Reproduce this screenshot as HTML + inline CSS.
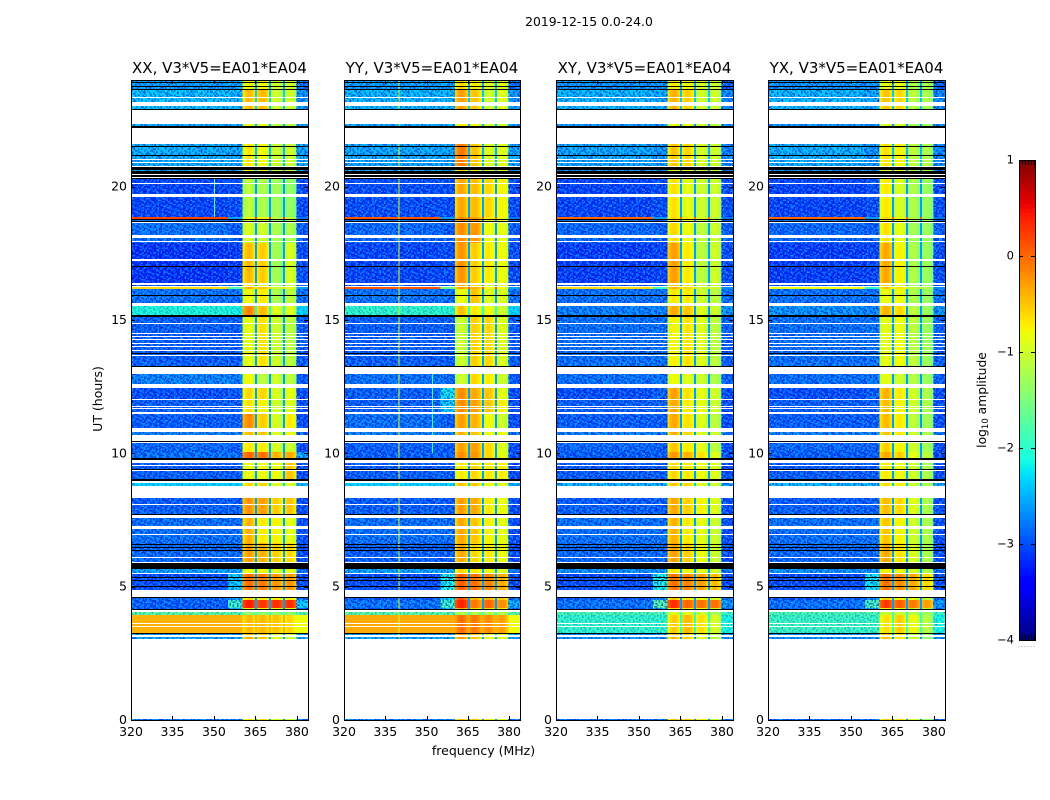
<!DOCTYPE html>
<html>
<head>
<meta charset="utf-8">
<title>2019-12-15 amplitude spectrogram</title>
<style>
html,body{margin:0;padding:0;background:#fff;}
svg{display:block;}
text{font-family:"DejaVu Sans","Liberation Sans",sans-serif;fill:#000;}
</style>
</head>
<body>
<svg id="figure" xmlns="http://www.w3.org/2000/svg" width="1050" height="800" viewBox="0 0 1050 800">
<defs id="defs"></defs>
<text x="589" y="26" font-size="12.400" text-anchor="middle">2019-12-15 0.0-24.0</text>
<text x="483.500" y="755" font-size="12.500" text-anchor="middle">frequency (MHz)</text>
<text transform="translate(102,399) rotate(-90)" font-size="12.500" text-anchor="middle">UT (hours)</text>
<text transform="translate(986,400) rotate(-90)" font-size="12.300" text-anchor="middle">log<tspan font-size="8.500" dy="2">10</tspan><tspan dy="-2"> amplitude</tspan></text>
</svg>
<script>
// Categories and axis labels
const polTitles = ['XX, V3*V5=EA01*EA04','YY, V3*V5=EA01*EA04','XY, V3*V5=EA01*EA04','YX, V3*V5=EA01*EA04'];
const freqTicks = [320,335,350,365,380];
const hourTicks = [0,5,10,15,20];
const colorbarTicks = [-4,-3,-2,-1,0,1];
// Time bands (UT hours) shared by all panels
const bandStart = [24.00,23.62,22.35,21.60,20.78,20.29,18.86,18.79,17.89,16.39,16.24,16.16,15.64,15.19,12.98,12.45,12.04,11.48,10.80,10.39,10.05,9.71,8.89,8.33,7.58,6.64,5.89,5.51,4.61,4.50,4.19,4.05,3.94,3.22,0.04];
const bandEnd   = [23.62,22.88,22.24,20.78,20.29,18.86,18.79,17.89,16.39,16.24,16.16,15.64,15.19,13.24,12.60,12.04,11.48,10.95,10.69,10.05,9.79,8.96,8.78,7.73,6.64,5.89,5.51,4.88,4.50,4.19,4.16,3.94,3.26,3.04,0.00];
// log10 amplitude per band: [320-355, 355-360, spw1, spw2, spw3, spw4, 380-384]
const xxLevels = [
[-2.55,-2.5,-0.8,-0.8,-1.0,-1.0,-2.8],[-2.35,-2.4,-0.45,-0.45,-1.0,-1.0,-2.6],[-2.5,-2.5,-0.9,-0.9,-1.1,-1.1,-2.6],[-2.45,-2.5,-0.7,-0.8,-1.0,-1.0,-2.5],[-2.5,-2.5,-0.8,-0.8,-1.0,-1.0,-2.6],
[-3.05,-3.0,-1.1,-1.2,-1.25,-1.35,-3.0],[0.2,-2.6,-0.8,-0.8,-1.1,-1.1,-2.8],[-2.8,-2.9,-0.95,-1.0,-1.2,-1.2,-2.9],[-3.15,-3.1,-0.45,-0.55,-1.25,-0.95,-3.0],[-2.9,-2.9,-0.7,-0.8,-1.1,-1.0,-2.9],
[-0.6,-1.8,-0.4,-0.5,-1.0,-0.9,-2.6],[-2.8,-2.8,-0.8,-0.7,-1.2,-1.1,-2.8],[-2.05,-2.1,-0.15,-0.45,-0.9,-0.9,-2.3],[-2.9,-2.9,-0.85,-0.65,-1.0,-1.1,-2.9],[-2.7,-2.7,-0.8,-1.1,-1.0,-1.1,-2.9],
[-3.0,-2.95,-0.6,-0.6,-0.95,-0.85,-3.0],[-2.9,-2.9,-0.65,-0.75,-1.0,-0.9,-3.0],[-2.9,-2.9,-0.2,-0.55,-0.95,-0.7,-3.0],[-2.7,-2.7,-0.45,-0.5,-0.9,-0.8,-2.8],[-2.85,-2.9,-0.7,-0.7,-0.95,-1.0,-3.0],
[-2.8,-2.8,0.0,-0.05,-0.4,-0.35,-2.5],[-2.9,-2.9,-0.8,-0.8,-0.8,-0.5,-3.0],[-2.3,-2.3,-0.6,-0.6,-0.9,-0.9,-2.5],[-2.9,-2.9,-0.25,-0.3,-0.55,-0.5,-3.0],[-2.8,-2.8,-0.4,-0.7,-0.75,-0.85,-3.0],
[-2.85,-2.85,-0.3,-0.4,-0.55,-0.6,-3.0],[-2.5,-2.5,-0.8,-0.8,-0.9,-0.9,-2.8],[-3.0,-2.3,-0.05,-0.1,-0.25,-0.25,-3.0],[-2.8,-2.5,-0.6,-0.7,-0.7,-0.7,-2.8],[-2.9,-1.9,0.4,0.25,0.3,0.3,-2.3],
[-2.9,-2.5,-0.7,-0.7,-0.8,-0.8,-2.9],[-1.7,-1.7,-1.4,-1.4,-1.4,-1.4,-1.7],[-0.4,-0.4,-0.45,-0.45,-0.5,-0.6,-0.8],[-2.5,-2.5,-0.4,-0.5,-0.9,-1.0,-2.5],[-2.7,-2.7,-0.7,-0.6,-0.9,-1.0,-2.8]];
const yyLevels = [
[-2.55,-2.5,-0.6,-0.7,-0.9,-0.9,-2.8],[-2.4,-2.4,-0.3,-0.5,-1.0,-0.9,-2.6],[-2.5,-2.5,-0.7,-0.8,-1.0,-1.0,-2.6],[-2.5,-2.5,-0.1,-0.5,-0.9,-0.9,-2.5],[-2.5,-2.5,-0.6,-0.7,-0.9,-0.9,-2.6],
[-3.0,-3.0,-0.35,-0.45,-0.6,-0.75,-3.0],[0.1,-2.6,-0.2,-0.3,-0.7,-0.8,-2.8],[-2.85,-2.9,-0.2,-0.25,-0.8,-0.85,-2.9],[-3.05,-3.0,-0.25,-0.55,-0.7,-0.8,-3.0],[-2.9,-2.9,-0.4,-0.6,-0.8,-0.9,-2.9],
[0.1,-1.6,-0.3,-0.4,-0.8,-0.8,-2.6],[-2.8,-2.8,-0.8,-0.5,-0.9,-0.9,-2.8],[-1.95,-2.0,-0.5,-0.7,-0.8,-1.0,-2.3],[-2.9,-2.9,-1.0,-0.55,-0.6,-0.9,-2.9],[-2.8,-2.8,-1.0,-0.6,-0.7,-1.0,-2.9],
[-2.9,-2.2,-0.2,-0.35,-0.5,-0.85,-3.0],[-2.9,-2.3,-0.2,-0.3,-0.5,-0.7,-3.0],[-2.8,-2.9,-0.3,-0.4,-0.8,-1.0,-3.0],[-2.7,-2.7,-0.4,-0.5,-0.8,-0.8,-2.8],[-2.9,-2.9,-0.3,-0.3,-0.6,-0.9,-3.0],
[-2.9,-2.9,-0.2,-0.25,-0.6,-0.85,-3.0],[-2.9,-2.9,-0.7,-0.6,-0.7,-0.7,-3.0],[-2.3,-2.3,-0.5,-0.5,-0.8,-0.9,-2.5],[-2.9,-2.9,-0.3,-0.35,-0.7,-0.8,-3.0],[-2.8,-2.8,-0.35,-0.5,-0.75,-0.85,-3.0],
[-2.9,-2.9,-0.35,-0.6,-0.7,-0.8,-3.0],[-2.5,-2.5,-0.6,-0.7,-0.8,-0.9,-2.8],[-3.0,-2.1,0.05,-0.05,-0.15,-0.35,-3.0],[-2.9,-2.2,0.1,-0.4,-0.4,-0.5,-2.8],[-2.8,-1.9,0.35,-0.1,0.0,-0.2,-2.5],
[-2.9,-2.4,-0.3,-0.6,-0.6,-0.7,-2.9],[-1.7,-1.7,-1.2,-1.2,-1.2,-1.2,-1.7],[-0.35,-0.35,-0.05,-0.1,-0.2,-0.3,-0.8],[-2.5,-2.5,-0.3,-0.5,-0.8,-0.9,-2.5],[-2.7,-2.7,-0.5,-0.5,-0.7,-0.9,-2.8]];
const xyLevels = [
[-2.6,-2.6,-0.7,-0.8,-1.0,-1.0,-2.9],[-2.4,-2.5,-0.4,-0.55,-1.0,-1.0,-2.7],[-2.6,-2.6,-0.8,-0.9,-1.0,-1.1,-2.7],[-2.5,-2.6,-0.5,-0.6,-0.95,-1.0,-2.7],[-2.6,-2.6,-0.7,-0.8,-1.0,-1.0,-2.7],
[-3.05,-3.0,-0.65,-0.85,-1.0,-1.0,-3.0],[0.0,-2.6,-0.6,-0.7,-1.0,-1.1,-2.8],[-2.85,-2.9,-0.6,-0.8,-1.1,-1.0,-2.9],[-3.1,-3.05,-0.3,-0.7,-1.1,-1.0,-3.0],[-2.9,-2.9,-0.5,-0.7,-1.0,-1.0,-2.9],
[-0.6,-1.9,-0.4,-0.6,-1.0,-1.0,-2.7],[-2.8,-2.8,-0.7,-0.7,-1.0,-1.1,-2.8],[-2.7,-2.7,-0.35,-0.5,-0.9,-1.0,-2.6],[-2.8,-2.8,-0.75,-0.65,-0.9,-1.1,-2.9],[-2.8,-2.8,-0.8,-0.9,-1.0,-1.2,-2.9],
[-3.0,-2.9,-0.3,-0.65,-0.85,-1.0,-3.0],[-2.9,-2.9,-0.35,-0.7,-0.85,-1.0,-3.0],[-2.9,-2.9,-0.35,-0.65,-0.9,-1.1,-3.0],[-2.7,-2.7,-0.4,-0.6,-0.9,-1.0,-2.8],[-2.85,-2.9,-0.5,-0.7,-0.85,-1.1,-3.0],
[-2.9,-2.9,-0.25,-0.4,-0.65,-0.9,-3.0],[-2.9,-2.9,-0.6,-0.7,-0.8,-0.9,-3.0],[-2.4,-2.4,-0.5,-0.6,-0.9,-1.0,-2.5],[-2.9,-2.9,-0.35,-0.55,-0.75,-0.9,-3.0],[-2.8,-2.8,-0.4,-0.7,-0.85,-1.0,-3.0],
[-2.85,-2.85,-0.3,-0.55,-0.8,-1.0,-3.0],[-2.6,-2.6,-0.7,-0.8,-0.9,-1.0,-2.8],[-3.0,-2.1,-0.05,-0.15,-0.3,-0.45,-3.0],[-2.9,-2.6,-0.5,-0.7,-0.8,-0.9,-2.8],[-2.8,-1.7,0.3,0.0,-0.05,-0.05,-2.6],
[-2.9,-2.5,-0.6,-0.7,-0.8,-0.9,-2.9],[-1.8,-1.8,-0.9,-0.9,-1.0,-1.2,-1.9],[-1.95,-1.95,-0.55,-0.45,-0.65,-0.95,-2.1],[-2.6,-2.6,-0.45,-0.6,-0.9,-1.1,-2.6],[-2.8,-2.8,-0.5,-0.5,-0.7,-1.1,-2.8]];
const yxLevels = [
[-2.6,-2.6,-0.85,-0.85,-1.2,-1.2,-2.9],[-2.4,-2.5,-0.5,-0.6,-1.1,-1.2,-2.7],[-2.6,-2.6,-0.9,-0.95,-1.2,-1.3,-2.7],[-2.45,-2.6,-0.65,-0.75,-1.1,-1.2,-2.7],[-2.6,-2.6,-0.8,-0.85,-1.1,-1.2,-2.7],
[-3.05,-3.0,-0.7,-0.95,-1.2,-1.3,-3.0],[0.0,-2.6,-0.6,-0.8,-1.2,-1.3,-2.8],[-2.85,-2.9,-0.65,-0.85,-1.25,-1.3,-2.9],[-3.1,-3.05,-0.35,-0.75,-1.2,-1.3,-3.0],[-2.9,-2.9,-0.55,-0.85,-1.2,-1.3,-2.9],
[-0.8,-2.0,-0.5,-0.7,-1.1,-1.2,-2.7],[-2.8,-2.8,-0.8,-0.8,-1.2,-1.3,-2.8],[-2.6,-2.7,-0.4,-0.6,-1.1,-1.3,-2.6],[-2.8,-2.8,-0.85,-0.8,-1.1,-1.3,-2.9],[-2.8,-2.8,-0.85,-1.0,-1.15,-1.3,-2.9],
[-3.0,-2.9,-0.4,-0.7,-1.0,-1.2,-3.0],[-2.9,-2.9,-0.45,-0.75,-1.0,-1.2,-3.0],[-2.9,-2.9,-0.45,-0.7,-1.1,-1.25,-3.0],[-2.7,-2.7,-0.5,-0.7,-1.0,-1.2,-2.8],[-2.85,-2.9,-0.55,-0.75,-1.0,-1.25,-3.0],
[-2.9,-2.9,-0.35,-0.55,-0.85,-1.1,-3.0],[-2.9,-2.9,-0.7,-0.8,-1.0,-1.2,-3.0],[-2.4,-2.4,-0.6,-0.7,-1.0,-1.2,-2.5],[-2.9,-2.9,-0.45,-0.6,-0.9,-1.2,-3.0],[-2.8,-2.8,-0.5,-0.75,-1.0,-1.2,-3.0],
[-2.85,-2.85,-0.35,-0.65,-0.95,-1.2,-3.0],[-2.6,-2.6,-0.75,-0.85,-1.0,-1.2,-2.8],[-3.0,-2.2,-0.05,-0.2,-0.35,-0.6,-3.0],[-2.9,-2.6,-0.55,-0.75,-0.9,-1.1,-2.8],[-2.8,-1.8,0.25,0.05,-0.1,-0.3,-2.6],
[-2.9,-2.5,-0.7,-0.8,-1.0,-1.1,-2.9],[-1.8,-1.8,-1.0,-1.0,-1.1,-1.3,-1.9],[-1.9,-1.9,-0.65,-0.55,-0.8,-1.15,-2.1],[-2.6,-2.6,-0.5,-0.7,-1.0,-1.3,-2.6],[-2.8,-2.8,-0.55,-0.6,-0.9,-1.3,-2.8]];
const panelLevels = [xxLevels,yyLevels,xyLevels,yxLevels];
// Level change across each spectral window (estimated)
const spwProfile = [-0.22,-0.08,0,0.03,0,-0.08,-0.22];
const spwStart = [360.4,365,370,375];
const spwEnd   = [365,370,375,379.7];
const gapFreqs = [365,370,375];
const gapLevel = -2.6;
// Narrow spectral lines
const lineFreq  = [350,339.8,352];
const linePanel = [0,1,1];
const lineLevel = [-1.7,-0.9,-1.9];
const lineStart = [20.29,24,12.98];
const lineEnd   = [18.86,3.04,10];
// Flagged rows: blank (white)
const blankStart = [23.36,23.18,22.88,22.20,21.04,20.94,20.79,20.49,20.36,20.14,19.73,18.68,18.19,17.96,17.27,16.37,16.28,15.64,14.89,14.53,14.40,14.29,14.14,14.01,13.88,13.69,13.24,12.60,12.04,11.78,11.70,11.55,10.95,10.69,9.71,9.56,9.38,8.96,8.78,8.10,7.65,7.29,7.22,6.98,6.11,5.91,5.53,4.86,4.76,4.11,3.64,3.51,3.19,3.04];
const blankEnd   = [23.33,23.03,22.39,21.64,21.00,20.91,20.74,20.44,20.31,20.10,19.63,18.62,18.06,17.93,17.21,16.33,16.24,15.53,14.85,14.49,14.36,14.25,14.10,13.97,13.84,13.65,12.98,12.45,12.00,11.74,11.66,11.49,10.80,10.50,9.64,9.51,9.32,8.89,8.33,8.06,7.61,7.26,7.18,6.94,6.08,5.87,5.48,4.82,4.61,4.05,3.60,3.47,3.13,0.04];
// Flagged rows: zero amplitude (black)
const blackStart = [23.91,23.79,23.66,22.91,22.26,21.51,21.19,20.72,20.59,20.42,20.31,18.79,18.73,17.01,15.94,15.19,13.78,13.28,10.46,9.81,9.43,9.04,7.71,6.60,6.49,6.38,5.87,5.76,5.36,5.25,5.03,4.61,4.16,3.28];
const blackEnd   = [23.87,23.75,23.63,22.88,22.20,21.47,21.15,20.63,20.49,20.38,20.27,18.75,18.69,16.97,15.90,15.13,13.74,13.22,10.41,9.75,9.38,8.98,7.67,6.56,6.45,6.34,5.78,5.68,5.33,5.21,4.99,4.58,4.11,3.21];
// Fine grain: d = darker, c = lighter, . = none
const speckleTexture = [
'd.c..d.dc.d..c.d','.cd.c..d.c.dd..c','c..d.dc..d..c.d.','.d.c..d.cd.c..dc','d.c.dd..c..d.c..','..d.c.d.d.c.d..c','c.d..c.dc..d.cd.','.dc.d..d.c.d...d',
'd...cd.c..dc.d.c','.c.d..c.d.d..c.d','cd..d.d..c.dd..c','..c.dc..d.d.c.d.','d.d...c.dc..d..c','.c.dc.d...dc.d.d','d..c..dc.d..c.d.','.dc.d...c.d.d.cd'];
const speckleTextureB = ['c...d....c.','..d...c....','.....d..c..','d..c.....d.','...d..c....','c.....d...c','...c....d..','.d....c....','....d....c.','..c.....d..','d.....c....'];

// Figure geometry and axis functions
const NS = 'http://www.w3.org/2000/svg';
const svg = document.getElementById('figure');
const defs = document.getElementById('defs');
const PLOT_TOP = 80, PLOT_BOTTOM = 720, FREQ_MIN = 320, FREQ_MAX = 384, HOUR_MAX = 24;
const PANEL_LEFTS = [131,344,556,768], PANEL_WIDTHS = [177,176,177,177];
const panelLeft = i => PANEL_LEFTS[i];
const xScale = (f, i) => PANEL_LEFTS[i] + (f - FREQ_MIN) * PANEL_WIDTHS[i] / (FREQ_MAX - FREQ_MIN);
const yScale = h => PLOT_BOTTOM - h * (PLOT_BOTTOM - PLOT_TOP) / HOUR_MAX;
const CB_X = 1019, CB_W = 16, CB_TOP = 160, CB_BOTTOM = 640, CB_MIN = -4, CB_MAX = 1;
const cbScale = v => CB_BOTTOM - (v - CB_MIN) * (CB_BOTTOM - CB_TOP) / (CB_MAX - CB_MIN);

function clamp(v){ return Math.max(0, Math.min(1, v)); }
function jet(level){
  const t = clamp((level - CB_MIN) / (CB_MAX - CB_MIN));
  const r = t < 0.35 ? 0 : t < 0.66 ? (t - 0.35) / 0.31 : t < 0.89 ? 1 : 1 - (t - 0.89) / 0.11 * 0.5;
  const g = t < 0.125 ? 0 : t < 0.375 ? (t - 0.125) / 0.25 : t < 0.64 ? 1 : t < 0.91 ? 1 - (t - 0.64) / 0.27 : 0;
  const b = t < 0.11 ? 0.5 + t / 0.11 * 0.5 : t < 0.34 ? 1 : t < 0.65 ? 1 - (t - 0.34) / 0.31 : 0;
  return 'rgb(' + Math.round(r * 255) + ',' + Math.round(g * 255) + ',' + Math.round(b * 255) + ')';
}
function addRect(parent, x, y, w, h, fill){
  const el = document.createElementNS(NS, 'rect');
  el.setAttribute('x', x.toFixed(2));
  el.setAttribute('y', y.toFixed(2));
  el.setAttribute('width', Math.max(w, 0).toFixed(2));
  el.setAttribute('height', Math.max(h, 0).toFixed(2));
  el.setAttribute('fill', fill);
  parent.appendChild(el);
  return el;
}
function addLine(parent, x1, y1, x2, y2){
  const el = document.createElementNS(NS, 'line');
  el.setAttribute('x1', x1);
  el.setAttribute('y1', y1);
  el.setAttribute('x2', x2);
  el.setAttribute('y2', y2);
  el.setAttribute('stroke', '#000');
  el.setAttribute('stroke-width', '1');
  parent.appendChild(el);
  return el;
}
function addText(parent, x, y, str, anchor, size){
  const el = document.createElementNS(NS, 'text');
  el.setAttribute('x', x);
  el.setAttribute('y', y);
  el.setAttribute('text-anchor', anchor);
  el.setAttribute('font-size', size);
  el.textContent = str;
  parent.appendChild(el);
  return el;
}
function addGroup(parent){
  const el = document.createElementNS(NS, 'g');
  parent.appendChild(el);
  return el;
}

// Speckle tiles
const GRAIN = 1.5;
function buildPattern(id, texture){
  const pattern = document.createElementNS(NS, 'pattern');
  pattern.setAttribute('id', id);
  pattern.setAttribute('patternUnits', 'userSpaceOnUse');
  pattern.setAttribute('width', GRAIN * texture[0].length);
  pattern.setAttribute('height', GRAIN * texture.length);
  texture.forEach((row, r) => {
    row.split('').forEach((ch, c) => {
      if (ch === '.') return;
      const g = addRect(pattern, c * GRAIN, r * GRAIN, GRAIN, GRAIN, ch === 'd' ? '#0000c8' : '#20c8ff');
      g.setAttribute('fill-opacity', ch === 'd' ? '0.5' : '0.45');
    });
  });
  defs.appendChild(pattern);
}
buildPattern('speckle', speckleTexture);
buildPattern('speckle-b', speckleTextureB);

// Panels
polTitles.forEach((title, p) => {
  const levels = panelLevels[p];
  const left = panelLeft(p);
  const width = PANEL_WIDTHS[p];
  const panel = addGroup(svg);
  
  

  const heat = addGroup(panel);
  
  
  heat.setAttribute('shape-rendering', 'crispEdges');

  bandStart.forEach((start, b) => {
    const y0 = Math.round(yScale(start));
    const h = Math.max(1, Math.round(yScale(bandEnd[b])) - y0);
    const row = levels[b];
    const lowA = addRect(heat, xScale(320, p), y0, xScale(355, p) - xScale(320, p), h, jet(row[0]));
    
    
    const lowB = addRect(heat, xScale(355, p), y0, xScale(360.4, p) - xScale(355, p), h, jet(row[1]));
    
    
    const edge = addRect(heat, xScale(379.7, p), y0, xScale(384, p) - xScale(379.7, p), h, jet(row[6]));
    
    
    spwStart.forEach((f0, s) => {
      const step = (spwEnd[s] - f0) / spwProfile.length;
      spwProfile.forEach((delta, k) => {
        const fa = f0 + k * step;
        const cell = addRect(heat, xScale(fa, p), y0, xScale(fa + step, p) - xScale(fa, p) + 0.3, h, jet(row[2 + s] + delta));
        
        
      });
    });
    gapFreqs.forEach(f => {
      const gap = addRect(heat, Math.round(xScale(f, p)), y0, 2, h, jet(Math.max(gapLevel, row[0])));
      
      
    });
    ['speckle', 'speckle-b'].forEach(id => {
      const strength = row[0] < -2.3 ? '1' : row[0] < -1.2 ? '0.45' : '0';
      const grain = addRect(heat, xScale(320, p), y0, xScale(360.4, p) - xScale(320, p), h, 'url(#' + id + ')');
      grain.setAttribute('opacity', strength);
      
      
      const grainEdge = addRect(heat, xScale(379.7, p), y0, xScale(384, p) - xScale(379.7, p), h, 'url(#' + id + ')');
      grainEdge.setAttribute('opacity', row[6] < -1.2 ? strength : '0');
      
      
    });
    lineFreq.forEach((f, n) => {
      if (linePanel[n] !== p) return;
      const top = Math.min(start, lineStart[n]), bottom = Math.max(bandEnd[b], lineEnd[n]);
      if (top <= bottom) return;
      const ln = addRect(heat, xScale(f, p), yScale(top), 1, yScale(bottom) - yScale(top), jet(lineLevel[n]));
      
      
    });
  });

  blankStart.forEach((start, i) => {
    const y0 = Math.round(yScale(start));
    const blank = addRect(heat, left, y0, width, Math.max(1, Math.round(yScale(blankEnd[i])) - y0), '#fff');
    
    
  });
  blackStart.forEach((start, i) => {
    const y0 = Math.round(yScale(start));
    const black = addRect(heat, left, y0, width, Math.max(1, Math.round(yScale(blackEnd[i])) - y0), '#000');
    
    
  });

  // Ticks and labels
  const ticks = addGroup(panel);
  
  
  freqTicks.forEach(f => {
    const tx = Math.round(xScale(f, p)) + 0.5;
    const tb = addLine(ticks, tx, PLOT_BOTTOM, tx, PLOT_BOTTOM - 4);
    
    
    const tt = addLine(ticks, tx, PLOT_TOP, tx, PLOT_TOP + 4);
    
    
    const lab = addText(panel, xScale(f, p), 736, String(f), 'middle', 12.5);
    
    
  });
  hourTicks.forEach(h => {
    const ty = Math.round(yScale(h)) + 0.5;
    const tl = addLine(ticks, left, ty, left + 4, ty);
    
    
    const tr = addLine(ticks, left + width, ty, left + width - 4, ty);
    
    
    const lab = addText(panel, left - 4, yScale(h) + 4, String(h), 'end', 12.5);
    
    
  });

  const frame = addRect(panel, left + 0.5, PLOT_TOP + 0.5, width, PLOT_BOTTOM - PLOT_TOP, 'none');
  frame.setAttribute('stroke', '#000');
  frame.setAttribute('stroke-width', '1');
  
  

  const ttl = addText(panel, left + width / 2, 73, title, 'middle', 15);
  
  
});

// Colorbar
const colorbar = addGroup(svg);


const CB_STEPS = 120;
for (let i = 0; i < CB_STEPS; i++) {
  const v0 = CB_MIN + (CB_MAX - CB_MIN) * i / CB_STEPS;
  const v1 = CB_MIN + (CB_MAX - CB_MIN) * (i + 1) / CB_STEPS;
  const seg = addRect(colorbar, CB_X, cbScale(v1), CB_W, cbScale(v0) - cbScale(v1) + 0.3, jet((v0 + v1) / 2));
  seg.setAttribute('shape-rendering', 'crispEdges');
  
  
}
colorbarTicks.forEach(v => {
  const ty = Math.round(cbScale(v)) + 0.5;
  if (v > CB_MIN && v < CB_MAX) {
    const a = addLine(colorbar, CB_X, ty, CB_X + 4, ty);
    
    
    const b = addLine(colorbar, CB_X + CB_W, ty, CB_X + CB_W - 4, ty);
    
    
  }
  const lab = addText(colorbar, 1014, cbScale(v) + 3.5, String(v).replace('-', '\u2212'), 'end', 11.5);
  
  
});
[0, 1, 2, 3, 4, 5].forEach(k => {
  const tx = CB_X + 0.5 + k * 3;
  const top = addLine(colorbar, tx, CB_TOP, tx, CB_TOP + 5);
  
  
  const bottom = addLine(colorbar, tx, CB_BOTTOM, tx, CB_BOTTOM - 5);
  
  
  const dot = addRect(colorbar, tx - 1, 646, 1, 1, '#aaa');
  
  
});
const cbFrame = addRect(colorbar, CB_X + 0.5, CB_TOP + 0.5, CB_W, CB_BOTTOM - CB_TOP, 'none');
cbFrame.setAttribute('stroke', '#000');
cbFrame.setAttribute('stroke-width', '1');


</script>
</body>
</html>
